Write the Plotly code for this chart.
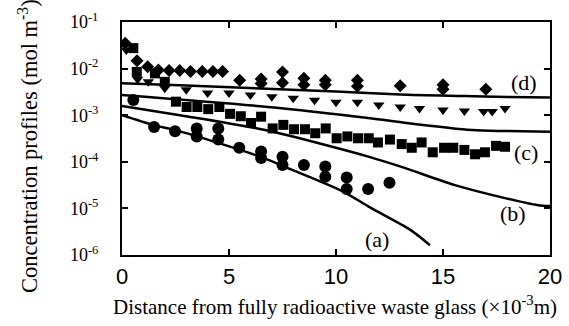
import math
import plotly.graph_objects as go

# ---- measured data (x in 1e-3 m, concentration in mol m^-3) ----
diam_x = [0.15, 0.7, 1.2, 1.7, 2.2, 2.7, 3.2, 3.75, 4.25, 4.7, 5.5, 6.5, 6.5, 7.5, 7.5,
          8.5, 8.5, 9.5, 9.5, 11.0, 11.0, 13.0, 15.0, 15.0, 17.0]
diam_y = [0.035, 0.0148, 0.011, 0.0093, 0.0091, 0.0091, 0.0087, 0.0087, 0.0087, 0.0087,
          0.0056, 0.006, 0.0048, 0.0085, 0.005, 0.0062, 0.0045, 0.0056, 0.0045, 0.0056,
          0.0042, 0.0043, 0.0045, 0.0036, 0.0036]

tri_x = [0.2, 0.73, 1.23, 2.0, 3.0, 4.0, 5.0, 6.0, 7.0, 8.0, 9.0, 10.0, 11.0, 12.0,
         13.0, 13.9, 15.0, 16.0, 16.9, 17.3, 17.9]
tri_y = [0.025, 0.0059, 0.0052, 0.0038, 0.0035, 0.003, 0.003, 0.0027, 0.0025, 0.0023,
         0.0021, 0.0019, 0.0019, 0.00166, 0.0015, 0.0014, 0.0013, 0.00123, 0.0012,
         0.0012, 0.0014]

sq_x = [0.53, 0.69, 1.54, 2.0, 2.52, 3.02, 3.52, 4.03, 4.55, 5.05, 5.55, 6.03, 6.5,
        7.04, 7.54, 8.04, 8.55, 9.03, 9.52, 10.03, 10.53, 11.03, 11.53, 11.96, 12.52,
        13.07, 13.54, 14.0, 14.52, 15.05, 15.48, 16.0, 16.5, 16.96, 17.48, 17.9]
sq_y = [0.0275, 0.0085, 0.0079, 0.0052, 0.00195, 0.0015, 0.0015, 0.00135, 0.0015,
        0.00107, 0.00095, 0.00068, 0.00093, 0.00052, 0.00062, 0.0005, 0.0005, 0.00041,
        0.00052, 0.00032, 0.00035, 0.00032, 0.00032, 0.00026, 0.0003, 0.00024, 0.0002,
        0.00026, 0.00016, 0.0002, 0.0002, 0.00018, 0.000145, 0.00016, 0.00022, 0.00021]

circ_x = [0.53, 1.5, 2.48, 3.49, 3.49, 4.5, 4.5, 5.48, 6.5, 6.5, 7.5, 7.5, 8.5, 9.5,
          9.5, 10.5, 10.5, 11.5, 12.5]
circ_y = [0.00213, 0.00056, 0.00045, 0.00052, 0.00035, 0.00052, 0.0003, 0.0002,
          0.000166, 0.00012, 0.000129, 0.000085, 0.000085, 0.000079, 0.000048,
          0.000046, 0.000026, 0.000026, 0.0000355]

curve_a_x = [0, 1.45, 2.71, 6.45, 7.99, 10.33, 11.59, 13.46, 14.39]
curve_a_y = [1.0e-3, 6.2e-4, 4.5e-4, 1.29e-4, 6.6e-5, 2.3e-5, 1.05e-5, 3.5e-6, 1.62e-6]

curve_b_x = [0, 2.71, 6.68, 11.59, 13.2, 15.56, 17.9, 19.44, 20]
curve_b_y = [1.58e-3, 1.0e-3, 4.8e-4, 1.26e-4, 7.4e-5, 3.16e-5, 1.66e-5, 1.17e-5, 1.12e-5]

curve_c_x = [0, 6.7, 11.6, 13.2, 16.35, 18, 20]
curve_c_y = [2.71e-3, 1.52e-3, 8.6e-4, 6.9e-4, 4.8e-4, 4.57e-4, 4.4e-4]

curve_d_x = [0, 3, 6.5, 10, 13, 16, 18, 20]
curve_d_y = [4.84e-3, 4.34e-3, 3.74e-3, 3.23e-3, 2.78e-3, 2.58e-3, 2.46e-3, 2.40e-3]

curve_labels = ["(a)", "(b)", "(c)", "(d)"]
label_x = [11.9, 18.27, 18.9, 18.8]
label_y = [2.1e-6, 7.9e-6, 1.62e-4, 5.1e-3]

x_tickvals = [0, 5, 10, 15, 20]
x_ticktext = ["0", "5", "10", "15", "20"]
y_tickvals = [1e-6, 1e-5, 1e-4, 1e-3, 1e-2, 1e-1]
y_ticktext = ["10<sup>-6</sup>", "10<sup>-5</sup>", "10<sup>-4</sup>",
              "10<sup>-3</sup>", "10<sup>-2</sup>", "10<sup>-1</sup>"]

SERIF = "Times New Roman, Liberation Serif, serif"
SANS = "Liberation Sans, Arial, sans-serif"

fig = go.Figure()

for cx, cy in [(curve_a_x, curve_a_y), (curve_b_x, curve_b_y),
               (curve_c_x, curve_c_y), (curve_d_x, curve_d_y)]:
    fig.add_trace(go.Scatter(x=cx, y=cy, mode="lines",
                             line=dict(color="black", width=2.5, shape="spline", smoothing=0.8),
                             showlegend=False, hoverinfo="skip"))

fig.add_trace(go.Scatter(x=diam_x, y=diam_y, mode="markers",
                         marker=dict(symbol="diamond", size=10, color="black"), showlegend=False))
fig.add_trace(go.Scatter(x=tri_x, y=tri_y, mode="markers",
                         marker=dict(symbol="triangle-down", size=10, color="black"), showlegend=False))
fig.add_trace(go.Scatter(x=sq_x, y=sq_y, mode="markers",
                         marker=dict(symbol="square", size=10, color="black"), showlegend=False))
fig.add_trace(go.Scatter(x=circ_x, y=circ_y, mode="markers",
                         marker=dict(symbol="circle", size=12, color="black"), showlegend=False))

annotations = []
for t, lx, ly in zip(curve_labels, label_x, label_y):
    annotations.append(dict(x=lx, y=math.log10(ly), xref="x", yref="y", text=t,
                            showarrow=False, xanchor="center", yanchor="middle",
                            font=dict(family=SERIF, size=22, color="black")))

annotations.append(dict(x=-0.2196, y=0.468, xref="paper", yref="paper",
                        xanchor="center", yanchor="middle",
                        text="Concentration profiles (mol m<sup>-3</sup>)", textangle=-90,
                        showarrow=False, font=dict(family=SERIF, size=22.5, color="black")))
annotations.append(dict(x=0.4977, y=-0.2146, xref="paper", yref="paper",
                        xanchor="center", yanchor="middle",
                        text="Distance from fully radioactive waste glass (\u00d710<sup>-3</sup>m)",
                        showarrow=False, font=dict(family=SERIF, size=21, color="black")))

fig.update_layout(
    width=569, height=326,
    margin=dict(l=122, r=19, t=22, b=71),
    paper_bgcolor="white", plot_bgcolor="white",
    annotations=annotations,
    xaxis=dict(range=[0, 20], tickvals=x_tickvals, ticktext=x_ticktext, automargin=False,
               ticks="inside", ticklen=6, tickwidth=2, tickcolor="black",
               showline=True, linecolor="black", linewidth=2, mirror="ticks",
               showgrid=False, zeroline=False,
               tickfont=dict(family=SANS, size=22, color="black"), ticklabelstandoff=1),
    yaxis=dict(type="log", range=[-6, -1], tickvals=y_tickvals, ticktext=y_ticktext,
               automargin=False,
               ticks="inside", ticklen=6, tickwidth=2, tickcolor="black",
               showline=True, linecolor="black", linewidth=2, mirror="ticks",
               showgrid=False, zeroline=False,
               tickfont=dict(family=SERIF, size=18, color="black"), ticklabelstandoff=18),
)

fig.write_html("out.html", config={"displayModeBar": False},
               post_script="document.body.style.margin='0';document.body.style.padding='0';")
